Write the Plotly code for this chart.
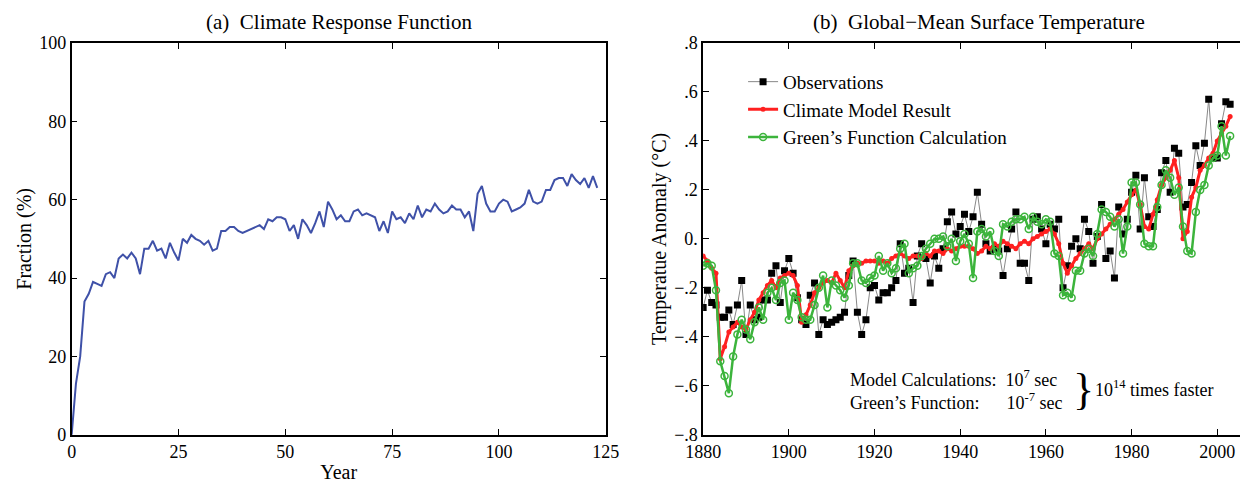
import plotly.graph_objects as go
from plotly.subplots import make_subplots

# (a) climate response function, years 0..123
resp_year = list(range(124))
resp_frac = [0, 13, 20, 34, 36, 39, 38.5, 38, 41, 41.5,
             40, 45, 46, 45, 46.5, 45, 41, 47.5, 47.5, 49.5,
             47, 47.5, 45, 49, 46.5, 44.5, 50, 49, 51, 50,
             49.5, 48.5, 49.5, 47, 47.5, 52, 52, 53, 53, 52,
             51.5, 52, 52.5, 53, 53.5, 52.5, 55, 54.5, 55.5, 55.5,
             55, 52, 53.5, 50, 55, 53.5, 51.5, 54, 57, 53,
             59.5, 57.5, 55, 56, 54.5, 54.5, 57, 57.5, 56, 56.5,
             56, 55.5, 52, 54.5, 51.5, 57, 55, 55.5, 54, 56.5,
             55, 58.5, 55.5, 57.5, 57, 59, 57.5, 56.5, 57, 58.5,
             57.5, 57.5, 55.5, 57, 52, 61.5, 63.5, 59, 57, 57,
             59, 60, 59.5, 57, 57.5, 58, 59, 62.5, 59.5, 59,
             59.5, 62.5, 62.5, 65, 65.5, 65.5, 63.5, 66.5, 65, 64,
             65.5, 63, 66, 63]

# (b) global-mean surface temperature, 1880..2003
years = list(range(1880, 2004))
obs = [-0.28, -0.21, -0.26, -0.27, -0.32, -0.32, -0.29, -0.35, -0.27, -0.17,
       -0.39, -0.27, -0.33, -0.32, -0.25, -0.25, -0.14, -0.11, -0.26, -0.13,
       -0.08, -0.14, -0.24, -0.33, -0.35, -0.23, -0.18, -0.39, -0.33, -0.35,
       -0.34, -0.33, -0.32, -0.30, -0.15, -0.09, -0.30, -0.39, -0.33, -0.20,
       -0.19, -0.25, -0.22, -0.22, -0.20, -0.17, -0.02, -0.14, -0.12, -0.26,
       -0.07, -0.02, -0.08, -0.18, -0.07, -0.12, -0.04, 0.07, 0.11, 0.02,
       0.05, 0.10, 0.03, 0.09, 0.19, 0.06, -0.02, -0.05, -0.04, -0.05,
       -0.15, -0.04, 0.04, 0.11, -0.10, -0.10, -0.17, 0.08, 0.09, 0.04,
       -0.02, 0.06, 0.04, 0.08, -0.20, -0.11, -0.03, 0.00, -0.04, 0.08,
       0.03, -0.10, 0.01, 0.14, -0.08, -0.05, -0.16, 0.13, 0.02, 0.08,
       0.19, 0.26, 0.04, 0.25, 0.09, 0.05, 0.12, 0.27, 0.32, 0.19,
       0.37, 0.35, 0.13, 0.14, 0.23, 0.38, 0.30, 0.39, 0.57, 0.33,
       0.33, 0.47, 0.56, 0.55]
model = [-0.07, -0.09, -0.12, -0.14, -0.49, -0.44, -0.38, -0.36, -0.34, -0.36,
         -0.37, -0.33, -0.30, -0.25, -0.22, -0.19, -0.17, -0.20, -0.16, -0.15,
         -0.14, -0.15, -0.19, -0.34, -0.31, -0.27, -0.22, -0.20, -0.18, -0.17,
         -0.18, -0.14, -0.17, -0.20, -0.13, -0.11, -0.10, -0.10, -0.09, -0.09,
         -0.09, -0.10, -0.09, -0.10, -0.08, -0.07, -0.06, -0.07, -0.08, -0.07,
         -0.07, -0.08, -0.06, -0.07, -0.05, -0.05, -0.06, -0.04, -0.05, -0.04,
         -0.03, -0.03, -0.03, -0.04, -0.06, -0.05, -0.03, -0.04, -0.02, -0.03,
         -0.01, -0.02, -0.03, -0.04, -0.02, -0.01, -0.02, 0.00, 0.01, 0.02,
         0.03, 0.04, 0.02, -0.02, -0.10, -0.14, -0.11, -0.08, -0.06, -0.04,
         -0.02, -0.04, 0.00, 0.02, 0.04, 0.06, 0.08, 0.10, 0.12, 0.15,
         0.18, 0.20, 0.14, 0.05, 0.04, 0.10, 0.16, 0.22, 0.25, 0.28,
         0.32, 0.25, 0.00, 0.03, 0.17, 0.21, 0.28, 0.30, 0.33, 0.35,
         0.40, 0.43, 0.46, 0.50]
green = [-0.11, -0.10, -0.11, -0.21, -0.50, -0.56, -0.63, -0.48, -0.39, -0.33,
         -0.37, -0.41, -0.34, -0.28, -0.33, -0.22, -0.20, -0.25, -0.18, -0.17,
         -0.33, -0.22, -0.25, -0.32, -0.33, -0.33, -0.27, -0.20, -0.15, -0.28,
         -0.17, -0.19, -0.21, -0.24, -0.19, -0.10, -0.10, -0.17, -0.18, -0.16,
         -0.15, -0.07, -0.13, -0.10, -0.14, -0.12, -0.04, -0.02, -0.14, -0.12,
         -0.11, -0.07, -0.04, -0.02, 0.00, 0.00, 0.01, -0.03, 0.00, -0.09,
         -0.01, 0.02, -0.02, -0.16, 0.03, 0.04, 0.01, 0.03, -0.05, -0.07,
         0.06, 0.05, 0.07, 0.08, 0.08, 0.09, 0.04, 0.09, 0.07, 0.06,
         0.08, 0.07, -0.06, -0.07, -0.23, -0.22, -0.24, -0.13, -0.13, -0.06,
         -0.04, -0.07, 0.02, 0.12, 0.11, 0.09, 0.05, 0.08, -0.06, 0.05,
         0.23, 0.23, 0.14, -0.02, -0.03, -0.03, 0.13, 0.22, 0.28, 0.25,
         0.18, 0.21, 0.05, -0.05, -0.06, 0.11, 0.20, 0.22, 0.30, 0.33,
         0.34, 0.46, 0.34, 0.42]

temp_ticks = [0.8, 0.6, 0.4, 0.2, 0.0, -0.2, -0.4, -0.6, -0.8]
temp_labels = [".8", ".6", ".4", ".2", "0.", "\u2212.2", "\u2212.4", "\u2212.6", "\u2212.8"]

FONT = "Liberation Serif"

fig = make_subplots(rows=1, cols=2)

fig.add_trace(go.Scatter(x=resp_year, y=resp_frac, mode="lines",
                         line=dict(color="#3f51a8", width=2), showlegend=False),
              row=1, col=1)

fig.add_trace(go.Scatter(x=years, y=obs, mode="lines+markers", name="Observations",
                         line=dict(color="#888888", width=1),
                         marker=dict(symbol="square", size=7, color="black")),
              row=1, col=2)
fig.add_trace(go.Scatter(x=years, y=model, mode="lines+markers", name="Climate Model Result",
                         line=dict(color="#ff2020", width=3),
                         marker=dict(symbol="circle", size=5, color="#ff2020")),
              row=1, col=2)
fig.add_trace(go.Scatter(x=years, y=green, mode="lines+markers", name="Green\u2019s Function Calculation",
                         line=dict(color="#3cb43c", width=2.5),
                         marker=dict(symbol="circle-open", size=7, color="#3cb43c", line=dict(width=1.5))),
              row=1, col=2)

axis_common = dict(showline=True, linecolor="black", linewidth=1.5, mirror="ticks",
                   ticks="inside", ticklen=6, tickcolor="black", showgrid=False,
                   zeroline=False, tickfont=dict(size=18), automargin=False)

fig.update_xaxes(axis_common)
fig.update_yaxes(axis_common)

fig.update_xaxes(range=[0, 125], tickvals=[0, 25, 50, 75, 100, 125],
                 domain=[0.051, 0.479], title=dict(text="Year", font=dict(size=20), standoff=4),
                 row=1, col=1)
fig.update_yaxes(range=[0, 100], tickvals=[0, 20, 40, 60, 80, 100],
                 domain=[0.120, 0.928], title=dict(text="Fraction (%)", font=dict(size=20), standoff=2),
                 row=1, col=1)
fig.update_xaxes(range=[1880, 2007], tickvals=[1880, 1900, 1920, 1940, 1960, 1980, 2000],
                 domain=[0.557, 0.993], row=1, col=2)
fig.update_yaxes(range=[-0.8, 0.8], tickvals=temp_ticks, ticktext=temp_labels,
                 domain=[0.120, 0.928],
                 title=dict(text="Temperatue Anomaly (\u00b0C)", font=dict(size=20), standoff=2),
                 row=1, col=2)

fig.add_annotation(text="(a)  Climate Response Function", xref="paper", yref="paper",
                   x=0.265, y=0.942, xanchor="center", yanchor="bottom",
                   showarrow=False, font=dict(size=21))
fig.add_annotation(text="(b)  Global\u2212Mean Surface Temperature", xref="paper", yref="paper",
                   x=0.778, y=0.942, xanchor="center", yanchor="bottom",
                   showarrow=False, font=dict(size=21))

fig.add_annotation(text="Model Calculations:  10<sup>7</sup> sec<br>Green\u2019s Function:      10<sup>-7</sup> sec",
                   xref="paper", yref="paper", x=0.673, y=0.213, xanchor="left", yanchor="middle",
                   align="left", showarrow=False, font=dict(size=18))
fig.add_annotation(text="}", xref="paper", yref="paper", x=0.862, y=0.213,
                   xanchor="center", yanchor="middle", showarrow=False, font=dict(size=44))
fig.add_annotation(text="10<sup>14</sup> times faster", xref="paper", yref="paper",
                   x=0.869, y=0.215, xanchor="left", yanchor="middle",
                   showarrow=False, font=dict(size=18))

fig.update_layout(
    width=1248, height=485,
    margin=dict(l=0, r=0, t=0, b=0),
    paper_bgcolor="white", plot_bgcolor="white",
    font=dict(family=FONT, color="black"),
    legend=dict(x=0.589, y=0.887, xanchor="left", yanchor="top",
                bgcolor="rgba(0,0,0,0)", font=dict(size=19), tracegroupgap=0),
)

fig.write_html("out.html")
